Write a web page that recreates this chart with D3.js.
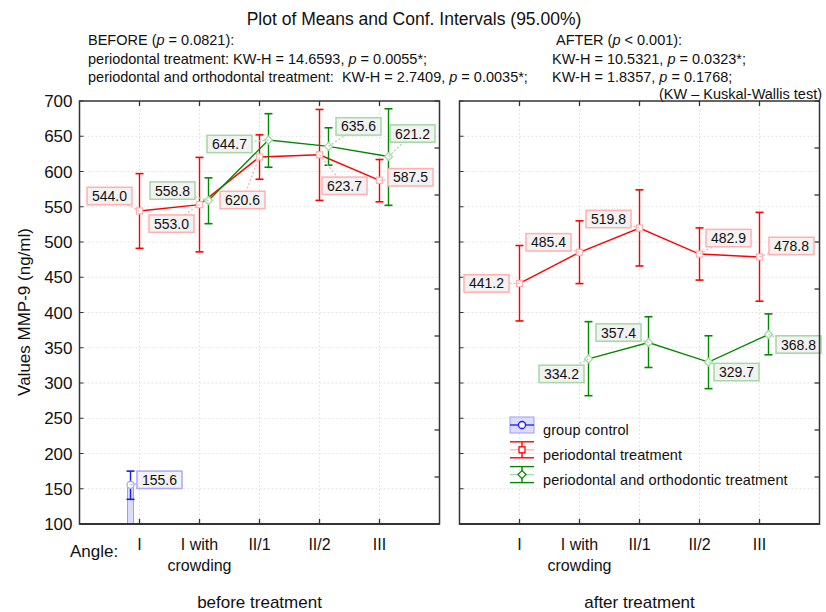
<!DOCTYPE html>
<html>
<head>
<meta charset="utf-8">
<script src="https://cdn.jsdelivr.net/npm/d3@7"></script>
<style>
  body { margin: 0; background: #fff; }
  svg { font-family: "Liberation Sans", Arial, sans-serif; }
</style>
</head>
<body>
<svg id="chart" width="826" height="612"></svg>
<script>
// categories (angle classes)
const categories = ["I", "I with|crowding", "II/1", "II/2", "III"];

// before treatment
const beforePerio = [544.0, 553.0, 620.6, 623.7, 587.5];
const beforePerioLow = [491, 486, 589, 559, 557];
const beforePerioHigh = [597, 620, 652, 688, 617];
const beforeOrtho = [null, 558.8, 644.7, 635.6, 621.2];
const beforeOrthoLow = [null, 526, 606, 609, 552];
const beforeOrthoHigh = [null, 591, 682, 662, 689];
const control = [155.6, null, null, null, null];
const controlLow = [135, null, null, null, null];
const controlHigh = [175, null, null, null, null];

// after treatment
const afterPerio = [441.2, 485.4, 519.8, 482.9, 478.8];
const afterPerioLow = [388, 441, 466, 446, 416];
const afterPerioHigh = [495, 530, 574, 520, 542];
const afterOrtho = [null, 334.2, 357.4, 329.7, 368.8];
const afterOrthoLow = [null, 282, 322, 292, 340];
const afterOrthoHigh = [null, 387, 394, 367, 398];

const yTicks = [100, 150, 200, 250, 300, 350, 400, 450, 500, 550, 600, 650, 700];
const legendLabels = ["group control", "periodontal treatment", "periodontal and orthodontic treatment"];
const panelTitles = ["before treatment", "after treatment"];

// where each value label box sits relative to its point
const labelOffsets = {
  beforePerio: [[-30, -15], [-28, 19], [-17, 43], [25, 31], [31, -3]],
  beforeOrtho: [null, [-36, -10], [-39, 4], [30, -20], [24, -23]],
  control: [[29, -5]],
  afterPerio: [[-33, 0], [-31, -10], [-31, -9], [29, -16], [32, -11]],
  afterOrtho: [null, [-27, 15], [-30, -10], [28, 10], [30, 10]]
};

const styles = {
  control: { color: "#1a1aff", pale: "#a8a8ff", marker: "circle", dx: -9 },
  perio: { color: "#ff0000", pale: "#ffb0b0", marker: "square", dx: 0 },
  ortho: { color: "#008800", pale: "#a4d8a4", marker: "diamond", dx: 9 }
};

const svg = d3.select("#chart");
const top0 = 101, bottom0 = 524, panelW = 360;
const y = d3.scaleLinear().domain([100, 700]).range([bottom0, top0]);
const fmt = d3.format(".1f");

// header
svg.append("text").attr("x", 414).attr("y", 25).attr("text-anchor", "middle")
  .attr("font-size", 17.5).attr("fill", "#111").text("Plot of Means and Conf. Intervals (95.00%)");

function statLine(x, yy, parts, anchor) {
  const t = svg.append("text").attr("x", x).attr("y", yy).attr("font-size", 14.5)
    .attr("fill", "#111").attr("text-anchor", anchor || "start");
  parts.forEach(p => {
    const s = t.append("tspan").text(p[0]);
    if (p[1]) s.attr("font-style", "italic");
  });
}
statLine(88, 45, [["BEFORE ("], ["p", 1], [" = 0.0821):"]]);
statLine(88, 64, [["periodontal treatment: KW-H = 14.6593, "], ["p", 1], [" = 0.0055*;"]]);
statLine(88, 82, [["periodontal and orthodontal treatment:\u00a0 KW-H = 2.7409, "], ["p", 1], [" = 0.0035*;"]]);
statLine(556, 45, [["AFTER ("], ["p", 1], [" < 0.001):"]]);
statLine(552, 64, [["KW-H = 10.5321, "], ["p", 1], [" = 0.0323*;"]]);
statLine(552, 82, [["KW-H = 1.8357, "], ["p", 1], [" = 0.1768;"]]);
statLine(822, 99, [["(KW – Kuskal-Wallis test)"]], "end");

// y axis title
svg.append("text").attr("transform", "translate(30,312) rotate(-90)")
  .attr("text-anchor", "middle").attr("font-size", 17).attr("fill", "#111")
  .text("Values MMP-9 (ng/ml)");

svg.append("text").attr("x", 70).attr("y", 557).attr("font-size", 17).attr("fill", "#111").text("Angle:");

function marker(g, type, cx, cy, st) {
  if (type === "circle") {
    g.append("circle").attr("cx", cx).attr("cy", cy).attr("r", 3.5)
      .attr("fill", "#fff").attr("stroke", st.pale).attr("stroke-width", 1.3);
  } else if (type === "square") {
    g.append("rect").attr("x", cx - 3).attr("y", cy - 3).attr("width", 6).attr("height", 6)
      .attr("fill", "#fff").attr("stroke", st.pale).attr("stroke-width", 1.3);
  } else {
    g.append("path").attr("d", `M${cx},${cy - 4}L${cx + 4},${cy}L${cx},${cy + 4}L${cx - 4},${cy}Z`)
      .attr("fill", "#fff").attr("stroke", st.pale).attr("stroke-width", 1.3);
  }
}

function drawPanel(x0, series, title, showYLabels) {
  const x = d3.scalePoint().domain(categories).range([x0, x0 + panelW]).padding(1);
  const g = svg.append("g");

  // grid
  g.selectAll(".hgrid").data(yTicks.slice(1, -1)).enter().append("line")
    .attr("x1", x0).attr("x2", x0 + panelW).attr("y1", d => y(d)).attr("y2", d => y(d))
    .attr("stroke", "#e4e4e4").attr("stroke-dasharray", "2,2");
  g.selectAll(".vgrid").data(categories).enter().append("line")
    .attr("x1", d => x(d)).attr("x2", d => x(d)).attr("y1", top0).attr("y2", bottom0)
    .attr("stroke", "#e4e4e4").attr("stroke-dasharray", "2,2");

  // inward ticks
  g.selectAll(".lt").data(yTicks).enter().append("line")
    .attr("x1", x0).attr("x2", x0 + 4).attr("y1", d => y(d)).attr("y2", d => y(d)).attr("stroke", "#333");
  g.selectAll(".rt").data(d3.range(0, 10)).enter().append("line")
    .attr("x1", x0 + panelW - 5).attr("x2", x0 + panelW)
    .attr("y1", i => top0 + i * (bottom0 - top0) / 9).attr("y2", i => top0 + i * (bottom0 - top0) / 9)
    .attr("stroke", "#333").attr("stroke-width", 1.3);
  g.selectAll(".bt").data(categories).enter().append("line")
    .attr("x1", d => x(d)).attr("x2", d => x(d)).attr("y1", bottom0 - 5).attr("y2", bottom0)
    .attr("stroke", "#333").attr("stroke-width", 1.3);
  g.selectAll(".tt").data(categories).enter().append("line")
    .attr("x1", d => x(d)).attr("x2", d => x(d)).attr("y1", top0).attr("y2", top0 + 5)
    .attr("stroke", "#333").attr("stroke-width", 1.3);

  if (showYLabels) {
    g.selectAll(".yl").data(yTicks).enter().append("text")
      .attr("x", x0 - 7).attr("y", d => y(d)).attr("dy", "0.36em").attr("text-anchor", "end")
      .attr("font-size", 17).attr("fill", "#111").text(d => d);
  }

  // category labels
  categories.forEach(c => {
    const t = g.append("text").attr("x", x(c)).attr("y", 550).attr("text-anchor", "middle")
      .attr("font-size", 16).attr("fill", "#111");
    c.split("|").forEach((s, i) => t.append("tspan").attr("x", x(c)).attr("dy", i ? 21 : 0).text(s));
  });
  g.append("text").attr("x", x0 + panelW / 2).attr("y", 608).attr("text-anchor", "middle")
    .attr("font-size", 17).attr("fill", "#111").text(title);

  const labels = [];
  series.forEach(s => {
    const st = styles[s.style];
    const pts = categories.map((c, i) => ({ c, i, v: s.mean[i], lo: s.low[i], hi: s.high[i] }))
      .filter(p => p.v != null);
    const px = p => x(p.c) + st.dx;

    if (s.bar) {
      pts.forEach(p => {
        g.append("rect").attr("x", px(p) - 3).attr("y", y(p.v)).attr("width", 6)
          .attr("height", y(100) - y(p.v)).attr("fill", "#dcdcff").attr("stroke", "#9c9cff").attr("stroke-width", 1);
      });
    }
    if (pts.length > 1) {
      g.append("path").datum(pts)
        .attr("d", d3.line().x(px).y(p => y(p.v)))
        .attr("fill", "none").attr("stroke", st.color).attr("stroke-width", 1.4);
    }
    pts.forEach(p => {
      const cx = px(p);
      g.append("line").attr("x1", cx).attr("x2", cx).attr("y1", y(p.hi)).attr("y2", y(p.lo))
        .attr("stroke", st.color).attr("stroke-width", 1.4);
      [p.hi, p.lo].forEach(v => g.append("line").attr("x1", cx - 4).attr("x2", cx + 4)
        .attr("y1", y(v)).attr("y2", y(v)).attr("stroke", st.color).attr("stroke-width", 1.6));
      const off = s.offsets[p.i];
      labels.push({ cx, cy: y(p.v), bx: cx + off[0], by: y(p.v) + off[1], v: p.v, st });
    });
    pts.forEach(p => marker(g, st.marker, px(p), y(p.v), st));
  });

  // value labels
  labels.forEach(l => {
    g.append("line").attr("x1", l.cx).attr("y1", l.cy).attr("x2", l.bx).attr("y2", l.by)
      .attr("stroke", l.st.pale).attr("stroke-width", 1.3).attr("stroke-dasharray", "2,2");
  });
  labels.forEach(l => {
    g.append("rect").attr("x", l.bx - 22.5).attr("y", l.by - 8.7).attr("width", 45).attr("height", 17.4)
      .attr("fill", "#f2f2f2").attr("stroke", l.st.pale).attr("stroke-width", 1.5);
    g.append("text").attr("x", l.bx).attr("y", l.by).attr("dy", "0.36em").attr("text-anchor", "middle")
      .attr("font-size", 14).attr("fill", "#111").text(fmt(l.v));
  });

  // frame
  g.append("rect").attr("x", x0).attr("y", top0).attr("width", panelW).attr("height", bottom0 - top0)
    .attr("fill", "none").attr("stroke", "#333").attr("stroke-width", 1.5);
  g.append("line").attr("x1", x0).attr("x2", x0 + panelW).attr("y1", bottom0).attr("y2", bottom0)
    .attr("stroke", "#333").attr("stroke-width", 2.2);
  return g;
}

drawPanel(79.5, [
  { style: "control", mean: control, low: controlLow, high: controlHigh, offsets: labelOffsets.control, bar: true },
  { style: "perio", mean: beforePerio, low: beforePerioLow, high: beforePerioHigh, offsets: labelOffsets.beforePerio },
  { style: "ortho", mean: beforeOrtho, low: beforeOrthoLow, high: beforeOrthoHigh, offsets: labelOffsets.beforeOrtho }
], panelTitles[0], true);

drawPanel(459.5, [
  { style: "perio", mean: afterPerio, low: afterPerioLow, high: afterPerioHigh, offsets: labelOffsets.afterPerio },
  { style: "ortho", mean: afterOrtho, low: afterOrthoLow, high: afterOrthoHigh, offsets: labelOffsets.afterOrtho }
], panelTitles[1], false);

// legend
const legend = svg.append("g").attr("transform", "translate(510,425)");
const legendStyles = [styles.control, styles.perio, styles.ortho];
legendLabels.forEach((lab, i) => {
  const st = legendStyles[i];
  const row = legend.append("g").attr("transform", `translate(0,${i * 24.8})`);
  if (i === 0) {
    row.append("rect").attr("x", 0).attr("y", -8).attr("width", 24).attr("height", 16)
      .attr("fill", "#dcdcff").attr("stroke", "#9c9cff");
    row.append("line").attr("x1", 0).attr("x2", 24).attr("stroke", st.color).attr("stroke-width", 1.3);
  } else {
    [-8, 8].forEach(v => row.append("line").attr("x1", 0).attr("x2", 24).attr("y1", v).attr("y2", v)
      .attr("stroke", st.color).attr("stroke-width", 1.4));
    row.append("line").attr("x1", 12).attr("x2", 12).attr("y1", -8).attr("y2", 8)
      .attr("stroke", st.color).attr("stroke-width", 1.4);
    row.append("line").attr("x1", 0).attr("x2", 24).attr("stroke", st.pale).attr("stroke-width", 1.3);
  }
  marker(row, st.marker, 12, 0, { pale: st.color });
  row.append("text").attr("x", 33).attr("y", 5).attr("dy", "0.36em").attr("font-size", 14.5)
    .attr("letter-spacing", 0.1).attr("fill", "#111").text(lab);
});
</script>
</body>
</html>
